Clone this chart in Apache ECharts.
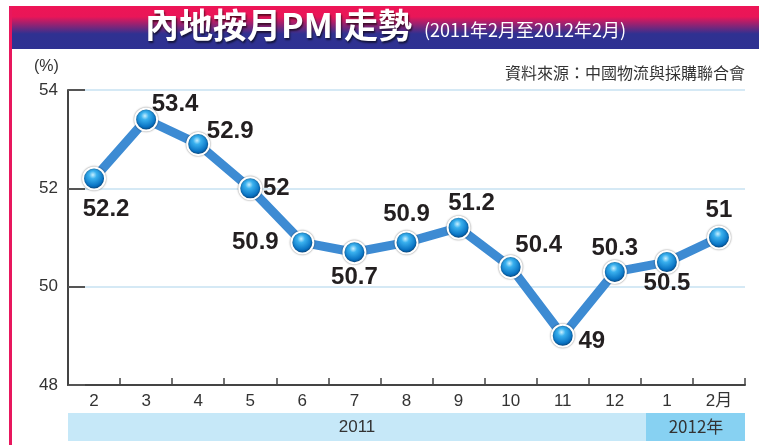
<!DOCTYPE html>
<html>
<head>
<meta charset="utf-8">
<script src="https://cdn.jsdelivr.net/npm/echarts@6/dist/echarts.min.js"></script>
<style>
html,body{margin:0;padding:0;background:#fff;}
#main{width:759px;height:445px;}
</style>
</head>
<body>
<div id="main"></div>
<script>
// 月份
var months = ['2', '3', '4', '5', '6', '7', '8', '9', '10', '11', '12', '1', '2月'];
// PMI 數值
var pmi = [52.2, 53.4, 52.9, 52, 50.9, 50.7, 50.9, 51.2, 50.4, 49, 50.3, 50.5, 51];
// 數字標籤相對圓點的偏移
var labelOff = [[12, 31], [29, -15], [32, -13], [26, 0], [-47, 0], [0, 25], [0, -28], [13, -24], [28, -22], [29, 6], [0, -24], [0, 21], [0, -27]];
var yTicks = [48, 50, 52, 54];

var chart = echarts.init(document.getElementById('main'));

var ball = {
    type: 'radial', x: 0.45, y: 0.35, r: 0.65,
    colorStops: [
        {offset: 0, color: '#c8f0ff'},
        {offset: 0.25, color: '#39b0ee'},
        {offset: 0.7, color: '#0a74c4'},
        {offset: 1, color: '#06427e'}
    ]
};

var seriesData = [];
for (var i = 0; i < pmi.length; i++) {
    seriesData.push({
        value: pmi[i],
        label: {position: 'inside', offset: labelOff[i]}
    });
}

var option = {
    animation: false,
    grid: {left: 68, right: 14, top: 90, bottom: 60},
    graphic: [
        // 標題底
        {type: 'rect', shape: {x: 10, y: 6, width: 749, height: 43},
            style: {fill: {type: 'linear', x: 0, y: 0, x2: 0, y2: 1, colorStops: [
                {offset: 0, color: '#ee1556'}, {offset: 0.25, color: '#e91658'},
                {offset: 0.65, color: '#2f3191'}, {offset: 1, color: '#2e3192'}]}}},
        {type: 'rect', shape: {x: 9, y: 6, width: 3, height: 439}, style: {fill: '#e8175d'}},
        {type: 'text', left: 145, top: 8,
            style: {text: '內地按月PMI走勢', fill: '#fff', font: 'bold 34px "Noto Sans CJK TC", sans-serif',
                textShadowColor: 'rgba(0,0,0,0.6)', textShadowBlur: 2, textShadowOffsetX: 1, textShadowOffsetY: 2}},
        {type: 'text', left: 424, top: 21,
            style: {text: '(2011年2月至2012年2月)', fill: '#fff', font: '18px "Noto Sans CJK TC", sans-serif'}},
        {type: 'text', right: 14, top: 65,
            style: {text: '資料來源：中國物流與採購聯合會', fill: '#333', font: '16px "Noto Sans CJK TC", sans-serif'}},
        {type: 'text', left: 34, top: 59,
            style: {text: '(%)', fill: '#333', font: '16px "Liberation Sans", Arial, sans-serif'}},
        // 年份條
        {type: 'rect', shape: {x: 68, y: 413, width: 578, height: 28}, style: {fill: '#c6e8f8'}},
        {type: 'rect', shape: {x: 646, y: 413, width: 99, height: 28}, style: {fill: '#87d1f2'}},
        {type: 'text', x: 357, y: 427, style: {text: '2011', fill: '#333', align: 'center', verticalAlign: 'middle',
            font: '17px "Liberation Sans", Arial, sans-serif'}},
        {type: 'text', x: 696, y: 427, style: {text: '2012年', fill: '#333', align: 'center', verticalAlign: 'middle',
            font: '17px "Noto Sans CJK TC", sans-serif'}}
    ],
    xAxis: {
        type: 'category',
        data: months,
        boundaryGap: true,
        axisLine: {lineStyle: {color: '#444', width: 2}},
        axisTick: {show: true, inside: true, length: 7, lineStyle: {color: '#444', width: 1.5}},
        axisLabel: {color: '#333', fontSize: 17, margin: 8,
            fontFamily: '"Liberation Sans", "Noto Sans CJK TC", Arial, sans-serif'}
    },
    yAxis: {
        type: 'value',
        min: yTicks[0], max: yTicks[yTicks.length - 1], interval: 2,
        axisLine: {show: true, lineStyle: {color: '#444', width: 2}},
        axisTick: {show: true, inside: true, length: 17, lineStyle: {color: '#555', width: 2}},
        axisLabel: {color: '#333', fontSize: 17, margin: 10,
            fontFamily: '"Liberation Sans", Arial, sans-serif'},
        splitLine: {show: true, lineStyle: {color: '#d5e9f5', width: 2}}
    },
    series: [{
        type: 'line',
        data: seriesData,
        symbol: 'circle',
        symbolSize: 22,
        lineStyle: {color: '#3d8bd3', width: 9},
        itemStyle: {color: ball, borderColor: '#fff', borderWidth: 2,
            shadowColor: 'rgba(0,0,0,0.45)', shadowBlur: 2},
        label: {show: true, color: '#231f20', fontSize: 24, fontWeight: 'bold',
            fontFamily: '"Liberation Sans", Arial, sans-serif'},
        z: 3
    }]
};
chart.setOption(option);
</script>
</body>
</html>
